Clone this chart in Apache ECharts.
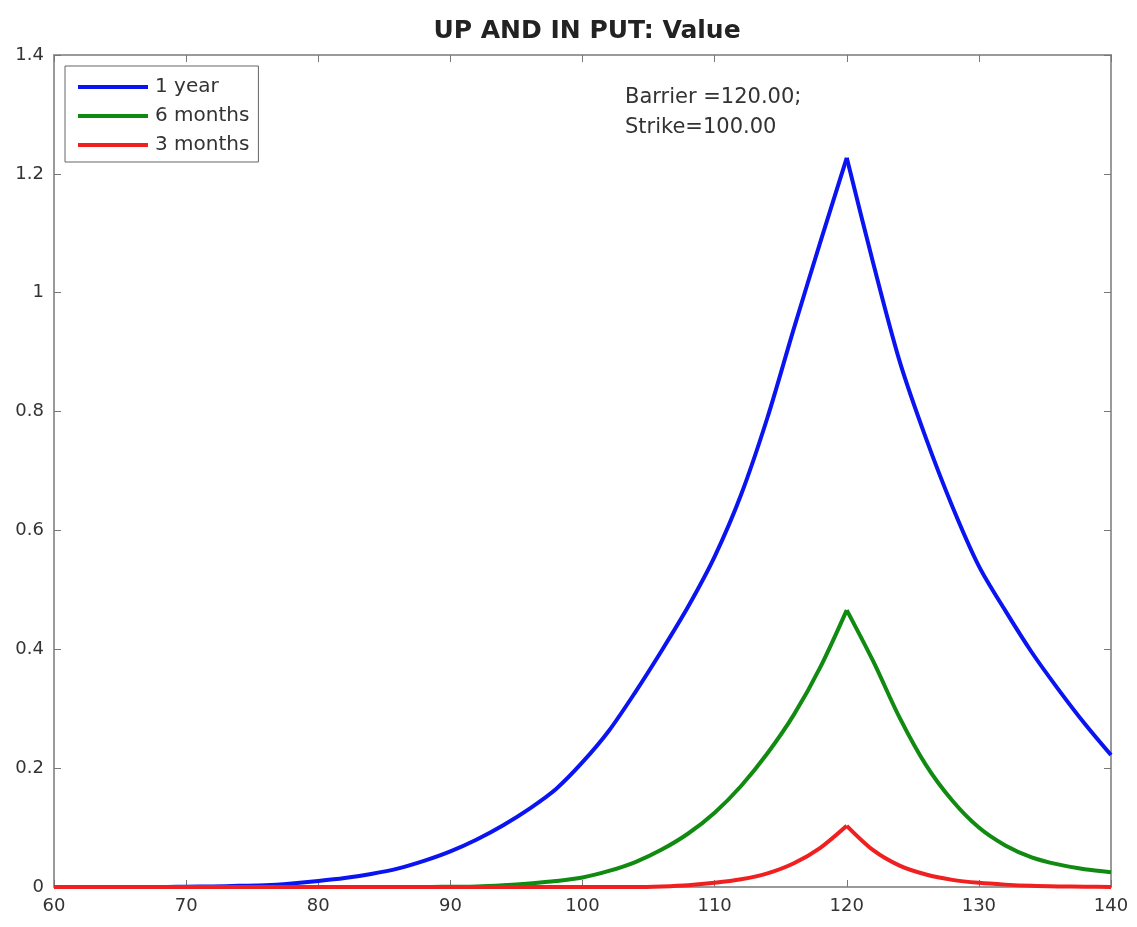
<!DOCTYPE html>
<html>
<head>
<meta charset="utf-8">
<script src="https://cdn.jsdelivr.net/npm/echarts@6/dist/echarts.min.js"></script>
<style>
  html, body { margin: 0; padding: 0; background: #fff; }
  #main { width: 1137px; height: 927px; }
</style>
</head>
<body>
<div id="main"></div>
<script>
// spot price grid
var spot = [60, 62, 64, 66, 68, 70, 72, 74, 76, 78,
            80, 82, 84, 86, 88, 90, 92, 94, 96, 98,
            100, 102, 104, 106, 108, 110, 112, 114, 116, 118,
            120, 122, 124, 126, 128, 130, 132, 134, 136, 138,
            140];

// option values
var oneYear = [0, 0, 0, 0, 0, 0.0005, 0.001, 0.002, 0.003, 0.006,
               0.01, 0.015, 0.022, 0.031, 0.044, 0.06, 0.08, 0.104, 0.132, 0.165,
               0.21, 0.263, 0.328, 0.398, 0.472, 0.556, 0.66, 0.79, 0.94, 1.085,
               1.227, 1.05, 0.885, 0.755, 0.64, 0.54, 0.465, 0.395, 0.333, 0.275,
               0.222];
var sixMonths = [0, 0, 0, 0, 0, 0, 0, 0, 0, 0,
                 0, 0, 0, 0, 0, 0.0005, 0.001, 0.003, 0.006, 0.01,
                 0.016, 0.027, 0.042, 0.063, 0.09, 0.125, 0.17, 0.225, 0.29, 0.37,
                 0.466, 0.38, 0.285, 0.205, 0.145, 0.1, 0.07, 0.05, 0.038, 0.03,
                 0.025];
var threeMonths = [0, 0, 0, 0, 0, 0, 0, 0, 0, 0,
                   0, 0, 0, 0, 0, 0, 0, 0, 0, 0,
                   0, 0, 0, 0.001, 0.003, 0.007, 0.013, 0.023, 0.04, 0.066,
                   0.103, 0.062, 0.036, 0.021, 0.012, 0.007, 0.004, 0.002, 0.001, 0.0005,
                   0];

var barrier = 120;
var seriesNames = ['1 year', '6 months', '3 months'];
var seriesColors = ['#0a14f0', '#108a10', '#f02020'];

function pairs(vals) {
  return spot.map(function (x, i) { return [x, vals[i]]; });
}

// the curves have a kink at the barrier, so each one is drawn as two smooth pieces
function branches(name, vals, color, z) {
  var pts = pairs(vals);
  var k = spot.indexOf(barrier);
  var base = {
    name: name, type: 'line', symbol: 'none', color: color,
    smooth: 0.3,
    lineStyle: { width: 4 }, z: z
  };
  return [
    Object.assign({}, base, { data: pts.slice(0, k + 1) }),
    Object.assign({}, base, { data: pts.slice(k) })
  ];
}

var chart = echarts.init(document.getElementById('main'));

var font = 'DejaVu Sans, sans-serif';
var frameColor = '#9a9a9a';
var tick = { show: true, inside: true, length: 7, lineStyle: { color: '#777', width: 1 } };
var frameLine = { show: true, onZero: false, lineStyle: { color: frameColor, width: 2 } };
var labelStyle = { color: '#333', fontSize: 18, fontFamily: font, margin: 10 };

var option = {
  animation: false,
  backgroundColor: '#fff',
  title: {
    text: 'UP AND IN PUT: Value',
    left: 582,
    textAlign: 'center',
    top: 14,
    textStyle: { fontSize: 25, fontWeight: 'bold', color: '#222', fontFamily: font }
  },
  legend: {
    orient: 'vertical',
    left: 65,
    top: 66,
    padding: [11, 9, 7, 13],
    itemGap: 9,
    itemWidth: 70,
    itemHeight: 4,
    icon: 'rect',
    borderColor: '#666',
    borderWidth: 1,
    borderRadius: 0,
    backgroundColor: '#fff',
    textStyle: { color: '#333', fontSize: 20, fontFamily: font, padding: [0, 0, 0, 2] },
    data: seriesNames
  },
  grid: { left: 54, right: 26, top: 55, bottom: 40, containLabel: false },
  xAxis: [
    {
      type: 'value', min: 60, max: 140, interval: 10,
      axisLine: frameLine, axisTick: tick, axisLabel: labelStyle,
      splitLine: { show: false }
    },
    {
      type: 'value', position: 'top', min: 60, max: 140, interval: 10,
      axisLine: frameLine, axisTick: tick, axisLabel: { show: false },
      splitLine: { show: false }
    }
  ],
  yAxis: [
    {
      type: 'value', min: 0, max: 1.4, interval: 0.2,
      axisLine: frameLine, axisTick: tick, axisLabel: labelStyle,
      splitLine: { show: false }
    },
    {
      type: 'value', position: 'right', min: 0, max: 1.4, interval: 0.2,
      axisLine: frameLine, axisTick: tick, axisLabel: { show: false },
      splitLine: { show: false }
    }
  ],
  graphic: [
    {
      type: 'text',
      left: 625,
      top: 83,
      style: {
        text: 'Barrier =120.00;\nStrike=100.00',
        fill: '#333',
        fontSize: 21,
        lineHeight: 30,
        fontFamily: font
      }
    }
  ],
  series: []
    .concat(branches(seriesNames[0], oneYear, seriesColors[0], 3))
    .concat(branches(seriesNames[1], sixMonths, seriesColors[1], 4))
    .concat(branches(seriesNames[2], threeMonths, seriesColors[2], 5))
};

chart.setOption(option);
</script>
</body>
</html>
